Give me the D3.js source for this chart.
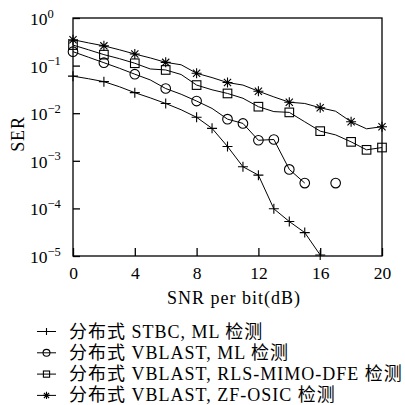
<html>
<head>
<meta charset="utf-8">
<title>SER vs SNR</title>
<script src="https://cdn.jsdelivr.net/npm/d3@7/dist/d3.min.js"></script>
<style>
  body { margin: 0; background: #fff; }
  text { font-family: "Liberation Serif", "Noto Sans CJK SC", serif; fill: #000; }
</style>
</head>
<body>
<script>
// data
var snr = d3.range(0, 21);
var xTicks = [0, 4, 8, 12, 16, 20];
var yExp = [0, -1, -2, -3, -4, -5];

var stbcMl = [0.060, 0.053, 0.046, 0.036, 0.027, 0.021, 0.016, 0.0118, 0.0082, 0.0048, 0.0020,
              7.5e-4, 5.0e-4, 9.8e-5, 5.3e-5, 3.1e-5, 1.05e-5, null, null, null, null];
var vblastMl = [0.196, 0.150, 0.115, 0.088, 0.066, 0.050, 0.033, 0.025, 0.018, 0.0126, 0.0075,
                0.0061, 0.0027, 0.0028, 6.6e-4, 3.4e-4, null, 3.4e-4, null, null, null];
var vblastRls = [0.27, 0.215, 0.17, 0.14, 0.112, 0.085, 0.081, 0.065, 0.039, 0.031, 0.026,
                 0.0206, 0.0137, 0.0108, 0.0104, 0.0066, 0.0042, 0.0035, 0.0025, 0.0017, 0.0019];
var vblastZf = [0.35, 0.30, 0.26, 0.215, 0.175, 0.145, 0.117, 0.104, 0.069, 0.056, 0.044,
                0.039, 0.029, 0.022, 0.017, 0.016, 0.013, 0.011, 0.0066, 0.0047, 0.0052];

// which snr points carry a marker
var stbcMarks = [0, 2, 4, 6, 8, 9, 10, 11, 12, 13, 14, 15, 16];
var mlMarks = [0, 2, 4, 6, 8, 10, 11, 12, 13, 14, 15, 17];
var rlsMarks = [0, 2, 4, 6, 8, 10, 12, 14, 16, 18, 19, 20];
var zfMarks = [0, 2, 4, 6, 8, 10, 12, 14, 16, 18, 20];

var labels = ["分布式 STBC, ML 检测", "分布式 VBLAST, ML 检测",
              "分布式 VBLAST, RLS-MIMO-DFE 检测", "分布式 VBLAST, ZF-OSIC 检测"];

var series = [
  {name: labels[0], vals: stbcMl, marks: stbcMarks, shape: "plus"},
  {name: labels[1], vals: vblastMl, marks: mlMarks, shape: "circle"},
  {name: labels[2], vals: vblastRls, marks: rlsMarks, shape: "square"},
  {name: labels[3], vals: vblastZf, marks: zfMarks, shape: "star"}
];

var width = 405, height = 405;
var pL = 73, pR = 382, pT = 18, pB = 256;

var svg = d3.select("body").append("svg")
  .attr("width", width)
  .attr("height", height);

var x = d3.scaleLinear().domain([0, 20]).range([pL, pR]);
var y = d3.scaleLog().domain([1e-5, 1]).range([pB, pT]);

// frame
svg.append("rect")
  .attr("x", pL).attr("y", pT)
  .attr("width", pR - pL).attr("height", pB - pT)
  .attr("fill", "none").attr("stroke", "#000").attr("stroke-width", 1.3);

// y axis, ticks inside
var yAxis = d3.axisLeft(y)
  .tickValues(yExp.map(function(e) { return Math.pow(10, e); }))
  .tickSizeInner(-7).tickSizeOuter(0).tickFormat("");
var gy = svg.append("g").attr("transform", "translate(" + pL + ",0)").call(yAxis);
gy.select(".domain").remove();
gy.selectAll(".tick line").attr("stroke-width", 1.3);

yExp.forEach(function(e) {
  var t = svg.append("text")
    .attr("x", 30).attr("y", y(Math.pow(10, e)) + 7)
    .style("font-size", "17.5px");
  t.append("tspan").text("10");
  t.append("tspan").attr("dy", -7.5).style("font-size", "12.5px").text(e == 0 ? "0" : "\u2212" + (-e));
});

// x axis, ticks inside
var xAxis = d3.axisBottom(x).tickValues(xTicks)
  .tickSizeInner(-8).tickSizeOuter(0).tickPadding(11);
var gx = svg.append("g").attr("transform", "translate(0," + pB + ")").call(xAxis);
gx.select(".domain").remove();
gx.selectAll(".tick line").attr("stroke-width", 1.3);
gx.selectAll(".tick text")
  .attr("font-family", null)
  .style("font-size", "17.5px");

svg.append("text")
  .attr("x", 234).attr("y", 304)
  .attr("text-anchor", "middle")
  .style("font-size", "18px")
  .style("letter-spacing", "1px")
  .text("SNR per bit(dB)");

svg.append("text")
  .attr("transform", "translate(23.5,134) rotate(-90)")
  .attr("text-anchor", "middle")
  .style("font-size", "18px")
  .style("letter-spacing", "0.8px")
  .text("SER");

// marker shapes
function marker(g, shape, cx, cy, k) {
  k = k || 1;
  if (shape == "circle") {
    g.append("circle").attr("cx", cx).attr("cy", cy).attr("r", 4.8 * k)
      .attr("fill", "#fff").attr("fill-opacity", 0).attr("stroke", "#000").attr("stroke-width", 1.1);
  } else if (shape == "square") {
    var h = 4.3 * k;
    g.append("rect").attr("x", cx - h).attr("y", cy - h).attr("width", 2 * h).attr("height", 2 * h)
      .attr("fill", "none").attr("stroke", "#000").attr("stroke-width", 1.1);
  } else if (shape == "plus") {
    var p = 5 * k;
    g.append("path").attr("d", "M" + (cx - p) + "," + cy + "h" + 2 * p + "M" + cx + "," + (cy - p) + "v" + 2 * p)
      .attr("stroke", "#000").attr("stroke-width", 1.1);
  } else {
    var r = 5 * k, d = 3.6 * k;
    g.append("path")
      .attr("d", "M" + (cx - r) + "," + cy + "h" + 2 * r +
                 "M" + cx + "," + (cy - r) + "v" + 2 * r +
                 "M" + (cx - d) + "," + (cy - d) + "l" + 2 * d + "," + 2 * d +
                 "M" + (cx - d) + "," + (cy + d) + "l" + 2 * d + "," + (-2 * d))
      .attr("stroke", "#000").attr("stroke-width", 1.1);
  }
}

var line = d3.line()
  .defined(function(d) { return d[1] != null; })
  .x(function(d) { return x(d[0]); })
  .y(function(d) { return y(d[1]); });

series.forEach(function(s) {
  var pts = snr.map(function(v, i) { return [v, s.vals[i]]; });
  svg.append("path").datum(pts)
    .attr("d", line)
    .attr("fill", "none").attr("stroke", "#000").attr("stroke-width", 1);
  var g = svg.append("g");
  s.marks.forEach(function(m) {
    var v = s.vals[snr.indexOf(m)];
    if (v != null) marker(g, s.shape, x(m), y(v));
  });
});

// legend
series.forEach(function(s, i) {
  var cy = 331.5 + i * 21.3;
  svg.append("line").attr("x1", 37).attr("x2", 56).attr("y1", cy).attr("y2", cy)
    .attr("stroke", "#000").attr("stroke-width", 1);
  var g = svg.append("g");
  marker(g, s.shape, 46.5, cy, 0.72);
  svg.append("text").attr("x", 69).attr("y", cy + 6)
    .style("font-size", "18px")
    .style("letter-spacing", "1px")
    .text(s.name);
});
</script>
</body>
</html>
